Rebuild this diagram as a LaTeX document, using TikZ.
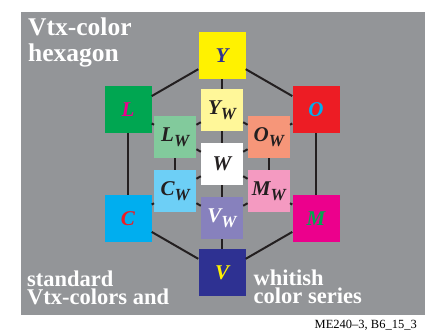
\documentclass[tikz,border=0pt]{standalone}
\usepackage{fontspec}
\setmainfont{Liberation Serif}
\definecolor{bggray}{HTML}{939598}
\definecolor{lnk}{HTML}{231F20}
\definecolor{cY}{HTML}{FFF200}
\definecolor{cL}{HTML}{00A651}
\definecolor{cO}{HTML}{ED1C24}
\definecolor{cC}{HTML}{00AEEF}
\definecolor{cM}{HTML}{EC008C}
\definecolor{cV}{HTML}{2E3192}
\definecolor{cYw}{HTML}{FFF799}
\definecolor{cLw}{HTML}{82CA9C}
\definecolor{cOw}{HTML}{F69679}
\definecolor{cCw}{HTML}{6DCFF6}
\definecolor{cMw}{HTML}{F49AC1}
\definecolor{cVw}{HTML}{8781BD}
\newcommand\vxsub[2]{#1\raisebox{-5pt}{\fontsize{17}{17}\selectfont #2}}
\tikzset{
  outerbox/.style={minimum size=47pt, inner sep=0pt, font=\fontsize{21}{21}\selectfont\bfseries\itshape},
  innerbox/.style={minimum size=42pt, inner sep=0pt, font=\fontsize{21}{21}\selectfont\bfseries\itshape, text=lnk},
  edge/.style={draw=lnk, line width=2pt},
  bigtitle/.style={anchor=base west, inner sep=0pt, text=white, font=\fontsize{25.5}{25.5}\selectfont\bfseries},
  subtitle/.style={anchor=base west, inner sep=0pt, text=white, font=\fontsize{22.5}{22.5}\selectfont\bfseries},
  caption/.style={anchor=base east, inner sep=0pt, text=black, font=\fontsize{12.5}{12.5}\selectfont}
}
\begin{document}
\begin{tikzpicture}[x=1pt,y=1pt]
\useasboundingbox (0,0) rectangle (435,332);
\fill[white] (0,0) rectangle (435,332);
\fill[bggray] (21,17) rectangle (425,320);
% outer vertices
\node[outerbox, fill=cY, text=cV] (Y) at (222,276.5) {Y};
\node[outerbox, fill=cL, text=cM] (L) at (128,222.25) {L};
\node[outerbox, fill=cO, text=cC] (O) at (316,222.25) {O};
\node[outerbox, fill=cC, text=cO] (C) at (128,113.75) {C};
\node[outerbox, fill=cM, text=cL] (M) at (316,113.75) {M};
\node[outerbox, fill=cV, text=cY] (V) at (222,59.5) {V};
% inner vertices
\node[innerbox, fill=cYw] (Yw) at (222,222) {\vxsub{Y}{W}};
\node[innerbox, fill=cLw] (Lw) at (175.2,195) {\vxsub{L}{W}};
\node[innerbox, fill=cOw] (Ow) at (268.8,195) {\vxsub{O}{W}};
\node[innerbox, fill=cCw] (Cw) at (175.2,141) {\vxsub{C}{W}};
\node[innerbox, fill=cMw] (Mw) at (268.8,141) {\vxsub{M}{W}};
\node[innerbox, fill=cVw, text=white] (Vw) at (222,114) {\vxsub{V}{W}};
\node[innerbox, fill=white] (W) at (222,168) {W};
% outer hexagon
\draw[edge] (Y) -- (O); \draw[edge] (O) -- (M); \draw[edge] (M) -- (V);
\draw[edge] (V) -- (C); \draw[edge] (C) -- (L); \draw[edge] (L) -- (Y);
% inner hexagon
\draw[edge] (Yw) -- (Ow); \draw[edge] (Ow) -- (Mw); \draw[edge] (Mw) -- (Vw);
\draw[edge] (Vw) -- (Cw); \draw[edge] (Cw) -- (Lw); \draw[edge] (Lw) -- (Yw);
% spokes
\draw[edge] (Y) -- (Yw); \draw[edge] (Yw) -- (W);
\draw[edge] (O) -- (Ow); \draw[edge] (Ow) -- (W);
\draw[edge] (M) -- (Mw); \draw[edge] (Mw) -- (W);
\draw[edge] (V) -- (Vw); \draw[edge] (Vw) -- (W);
\draw[edge] (C) -- (Cw); \draw[edge] (Cw) -- (W);
\draw[edge] (L) -- (Lw); \draw[edge] (Lw) -- (W);
% texts
\node[bigtitle] (t1) at (28,296) {Vtx-color};
\node[bigtitle] (t2) at (28,270) {hexagon};
\node[subtitle] (s1) at (27,46) {standard};
\node[subtitle] (s2) at (27,28) {Vtx-colors and};
\node[subtitle] (w1) at (253.5,47) {whitish};
\node[subtitle] (w2) at (253.5,28.7) {color series};
\node[caption] (cap) at (417,4) {ME240--3, B6\_15\_3};
\end{tikzpicture}
\end{document}
